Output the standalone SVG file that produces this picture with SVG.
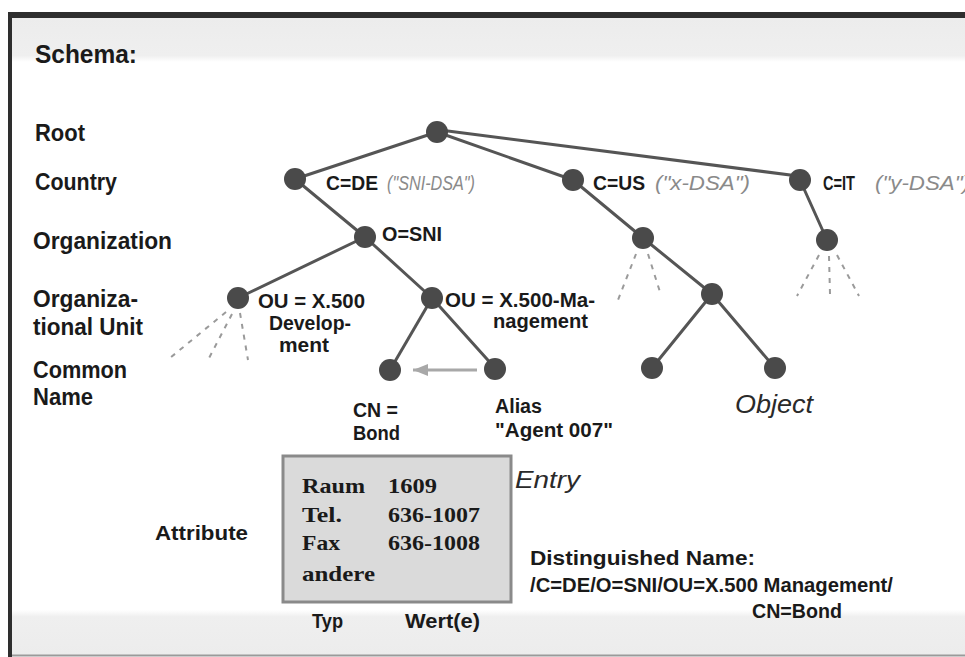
<svg xmlns="http://www.w3.org/2000/svg" width="965" height="657" viewBox="0 0 965 657">
<defs>
<style>
.b{font-family:"Liberation Sans",Arial,sans-serif;font-weight:bold;fill:#1a1a1a}
.row{font-size:23px}
.lab{font-size:20px}
.it{font-family:"Liberation Sans",Arial,sans-serif;font-style:italic;fill:#8a8a8a;font-size:21px}
.itd{font-family:"Liberation Sans",Arial,sans-serif;font-style:italic;fill:#2a2a2a}
.ser{font-family:"Liberation Serif","Times New Roman",serif;font-weight:bold;font-size:22px;fill:#1a1a1a}
.node{fill:#4a4a4a}
.edge{stroke:#555;stroke-width:3;fill:none;stroke-linecap:round}
.dash{stroke:#9a9a9a;stroke-width:2;stroke-dasharray:5 6;fill:none}
</style>
<linearGradient id="topband" x1="0" y1="0" x2="0" y2="1">
<stop offset="0" stop-color="#ececec"/>
<stop offset="0.85" stop-color="#efefef"/>
<stop offset="1" stop-color="#ffffff"/>
</linearGradient>
<linearGradient id="botband" x1="0" y1="0" x2="0" y2="1">
<stop offset="0" stop-color="#ffffff"/>
<stop offset="0.15" stop-color="#efefef"/>
<stop offset="1" stop-color="#ececec"/>
</linearGradient>
<marker id="arr" markerWidth="5" markerHeight="4" refX="5" refY="2" orient="auto" markerUnits="strokeWidth">
<path d="M0,0 L5,2 L0,4 Z" fill="#a8a8a8"/>
</marker>
</defs>

<rect x="0" y="0" width="965" height="657" fill="#ffffff"/>
<g id="frame">
<rect x="10" y="18" width="955" height="44" fill="url(#topband)"/>
<rect x="10" y="610" width="955" height="45" fill="url(#botband)"/>
<line x1="10" y1="655.5" x2="965" y2="655.5" stroke="#9a9a9a" stroke-width="2"/>
<rect x="8" y="12" width="957" height="6" fill="#2e2e2e"/>
<rect x="8" y="12" width="4" height="645" fill="#2e2e2e"/>
</g>

<g id="title"><text class="b" x="35" y="63" font-size="26" textLength="102" lengthAdjust="spacingAndGlyphs">Schema:</text></g>

<g id="levels">
<text class="b row" x="35" y="141" textLength="50" lengthAdjust="spacingAndGlyphs">Root</text>
<text class="b row" x="35" y="190" textLength="82" lengthAdjust="spacingAndGlyphs">Country</text>
<text class="b row" x="33" y="249" textLength="139" lengthAdjust="spacingAndGlyphs">Organization</text>
<text class="b row" x="33" y="307" textLength="105" lengthAdjust="spacingAndGlyphs">Organiza-</text>
<text class="b row" x="33" y="335" textLength="110" lengthAdjust="spacingAndGlyphs">tional Unit</text>
<text class="b row" x="33" y="378" textLength="94" lengthAdjust="spacingAndGlyphs">Common</text>
<text class="b row" x="33" y="405" textLength="60" lengthAdjust="spacingAndGlyphs">Name</text>
</g>

<g id="connectors">
<line class="edge" x1="437" y1="132" x2="295" y2="179"/>
<line class="edge" x1="437" y1="132" x2="573" y2="180"/>
<line class="edge" x1="440" y1="130" x2="798" y2="176"/>
<line class="edge" x1="295" y1="179" x2="365" y2="237"/>
<line class="edge" x1="365" y1="237" x2="238" y2="298"/>
<line class="edge" x1="365" y1="237" x2="432" y2="298"/>
<line class="edge" x1="432" y1="298" x2="390" y2="370"/>
<line class="edge" x1="432" y1="298" x2="495" y2="368"/>
<line class="edge" x1="573" y1="180" x2="643" y2="238"/>
<line class="edge" x1="643" y1="238" x2="712" y2="294"/>
<line class="edge" x1="712" y1="294" x2="652" y2="368"/>
<line class="edge" x1="712" y1="294" x2="775" y2="368"/>
<line class="edge" x1="800" y1="180" x2="827" y2="240"/>
<line class="dash" x1="226" y1="312" x2="170" y2="358"/>
<line class="dash" x1="232" y1="314" x2="208" y2="360"/>
<line class="dash" x1="240" y1="313" x2="248" y2="360"/>
<line class="dash" x1="636" y1="254" x2="618" y2="300"/>
<line class="dash" x1="648" y1="254" x2="660" y2="292"/>
<line class="dash" x1="819" y1="255" x2="797" y2="296"/>
<line class="dash" x1="829" y1="256" x2="830" y2="294"/>
<line class="dash" x1="837" y1="255" x2="859" y2="296"/>
<line x1="477" y1="370" x2="413" y2="370" stroke="#a8a8a8" stroke-width="3" marker-end="url(#arr)"/>
</g>

<g id="root"><circle class="node" cx="437" cy="132" r="11"/></g>
<g id="c-de"><circle class="node" cx="295" cy="179" r="11"/>
<text class="b lab" x="326" y="190" textLength="52" lengthAdjust="spacingAndGlyphs">C=DE</text>
<text class="it" x="387" y="190" textLength="88" lengthAdjust="spacingAndGlyphs">("SNI-DSA")</text></g>
<g id="c-us"><circle class="node" cx="573" cy="180" r="11"/>
<text class="b lab" x="593" y="190" textLength="52" lengthAdjust="spacingAndGlyphs">C=US</text>
<text class="it" x="655" y="190" textLength="95" lengthAdjust="spacingAndGlyphs">("x-DSA")</text></g>
<g id="c-it"><circle class="node" cx="800" cy="180" r="11"/>
<text class="b lab" x="823" y="190" textLength="32" lengthAdjust="spacingAndGlyphs">C=IT</text>
<text class="it" x="875" y="190" textLength="95" lengthAdjust="spacingAndGlyphs">("y-DSA")</text></g>
<g id="o-sni"><circle class="node" cx="365" cy="237" r="11"/>
<text class="b lab" x="382" y="241" textLength="60" lengthAdjust="spacingAndGlyphs">O=SNI</text></g>
<g id="us-org"><circle class="node" cx="643" cy="238" r="11"/></g>
<g id="it-org"><circle class="node" cx="827" cy="240" r="11"/></g>
<g id="ou-dev"><circle class="node" cx="238" cy="298" r="11"/>
<text class="b lab" x="258" y="308" textLength="107" lengthAdjust="spacingAndGlyphs">OU = X.500</text>
<text class="b lab" x="269" y="330" textLength="82" lengthAdjust="spacingAndGlyphs">Develop-</text>
<text class="b lab" x="279" y="352" textLength="50" lengthAdjust="spacingAndGlyphs">ment</text></g>
<g id="ou-mgmt"><circle class="node" cx="432" cy="298" r="11"/>
<text class="b lab" x="445" y="307" textLength="150" lengthAdjust="spacingAndGlyphs">OU = X.500-Ma-</text>
<text class="b lab" x="493" y="328" textLength="95" lengthAdjust="spacingAndGlyphs">nagement</text></g>
<g id="us-ou"><circle class="node" cx="712" cy="294" r="11"/></g>
<g id="cn-bond"><circle class="node" cx="390" cy="370" r="11"/>
<text class="b lab" x="353" y="417" textLength="45" lengthAdjust="spacingAndGlyphs">CN =</text>
<text class="b lab" x="353" y="440" textLength="47" lengthAdjust="spacingAndGlyphs">Bond</text></g>
<g id="alias"><circle class="node" cx="495" cy="369" r="11"/>
<text class="b lab" x="495" y="413" textLength="47" lengthAdjust="spacingAndGlyphs">Alias</text>
<text class="b lab" x="495" y="437" textLength="118" lengthAdjust="spacingAndGlyphs">"Agent 007"</text></g>
<g id="us-cn1"><circle class="node" cx="652" cy="368" r="11"/></g>
<g id="us-cn2"><circle class="node" cx="775" cy="368" r="11"/></g>
<g id="object-label"><text class="itd" x="735" y="413" font-size="26" textLength="78" lengthAdjust="spacingAndGlyphs">Object</text></g>

<g id="entry">
<rect x="283" y="456" width="228" height="146" fill="#dadada" stroke="#8a8a8a" stroke-width="3"/>
<text class="ser" x="302" y="493" textLength="63" lengthAdjust="spacingAndGlyphs">Raum</text>
<text class="ser" x="388" y="493" textLength="49" lengthAdjust="spacingAndGlyphs">1609</text>
<text class="ser" x="302" y="522" textLength="40" lengthAdjust="spacingAndGlyphs">Tel.</text>
<text class="ser" x="388" y="522" textLength="92" lengthAdjust="spacingAndGlyphs">636-1007</text>
<text class="ser" x="302" y="550" textLength="38" lengthAdjust="spacingAndGlyphs">Fax</text>
<text class="ser" x="388" y="550" textLength="92" lengthAdjust="spacingAndGlyphs">636-1008</text>
<text class="ser" x="302" y="581" textLength="73" lengthAdjust="spacingAndGlyphs">andere</text>
<text class="itd" x="515" y="488" font-size="24" textLength="65" lengthAdjust="spacingAndGlyphs">Entry</text>
<text class="b lab" x="155" y="540" textLength="93" lengthAdjust="spacingAndGlyphs">Attribute</text>
<text class="b lab" x="312" y="628" textLength="31" lengthAdjust="spacingAndGlyphs">Typ</text>
<text class="b lab" x="405" y="628" textLength="75" lengthAdjust="spacingAndGlyphs">Wert(e)</text>
</g>

<g id="dn">
<text class="b lab" x="530" y="565" textLength="225" lengthAdjust="spacingAndGlyphs">Distinguished Name:</text>
<text class="b lab" x="530" y="592" textLength="363" lengthAdjust="spacingAndGlyphs">/C=DE/O=SNI/OU=X.500 Management/</text>
<text class="b lab" x="752" y="618" textLength="90" lengthAdjust="spacingAndGlyphs">CN=Bond</text>
</g>
</svg>
